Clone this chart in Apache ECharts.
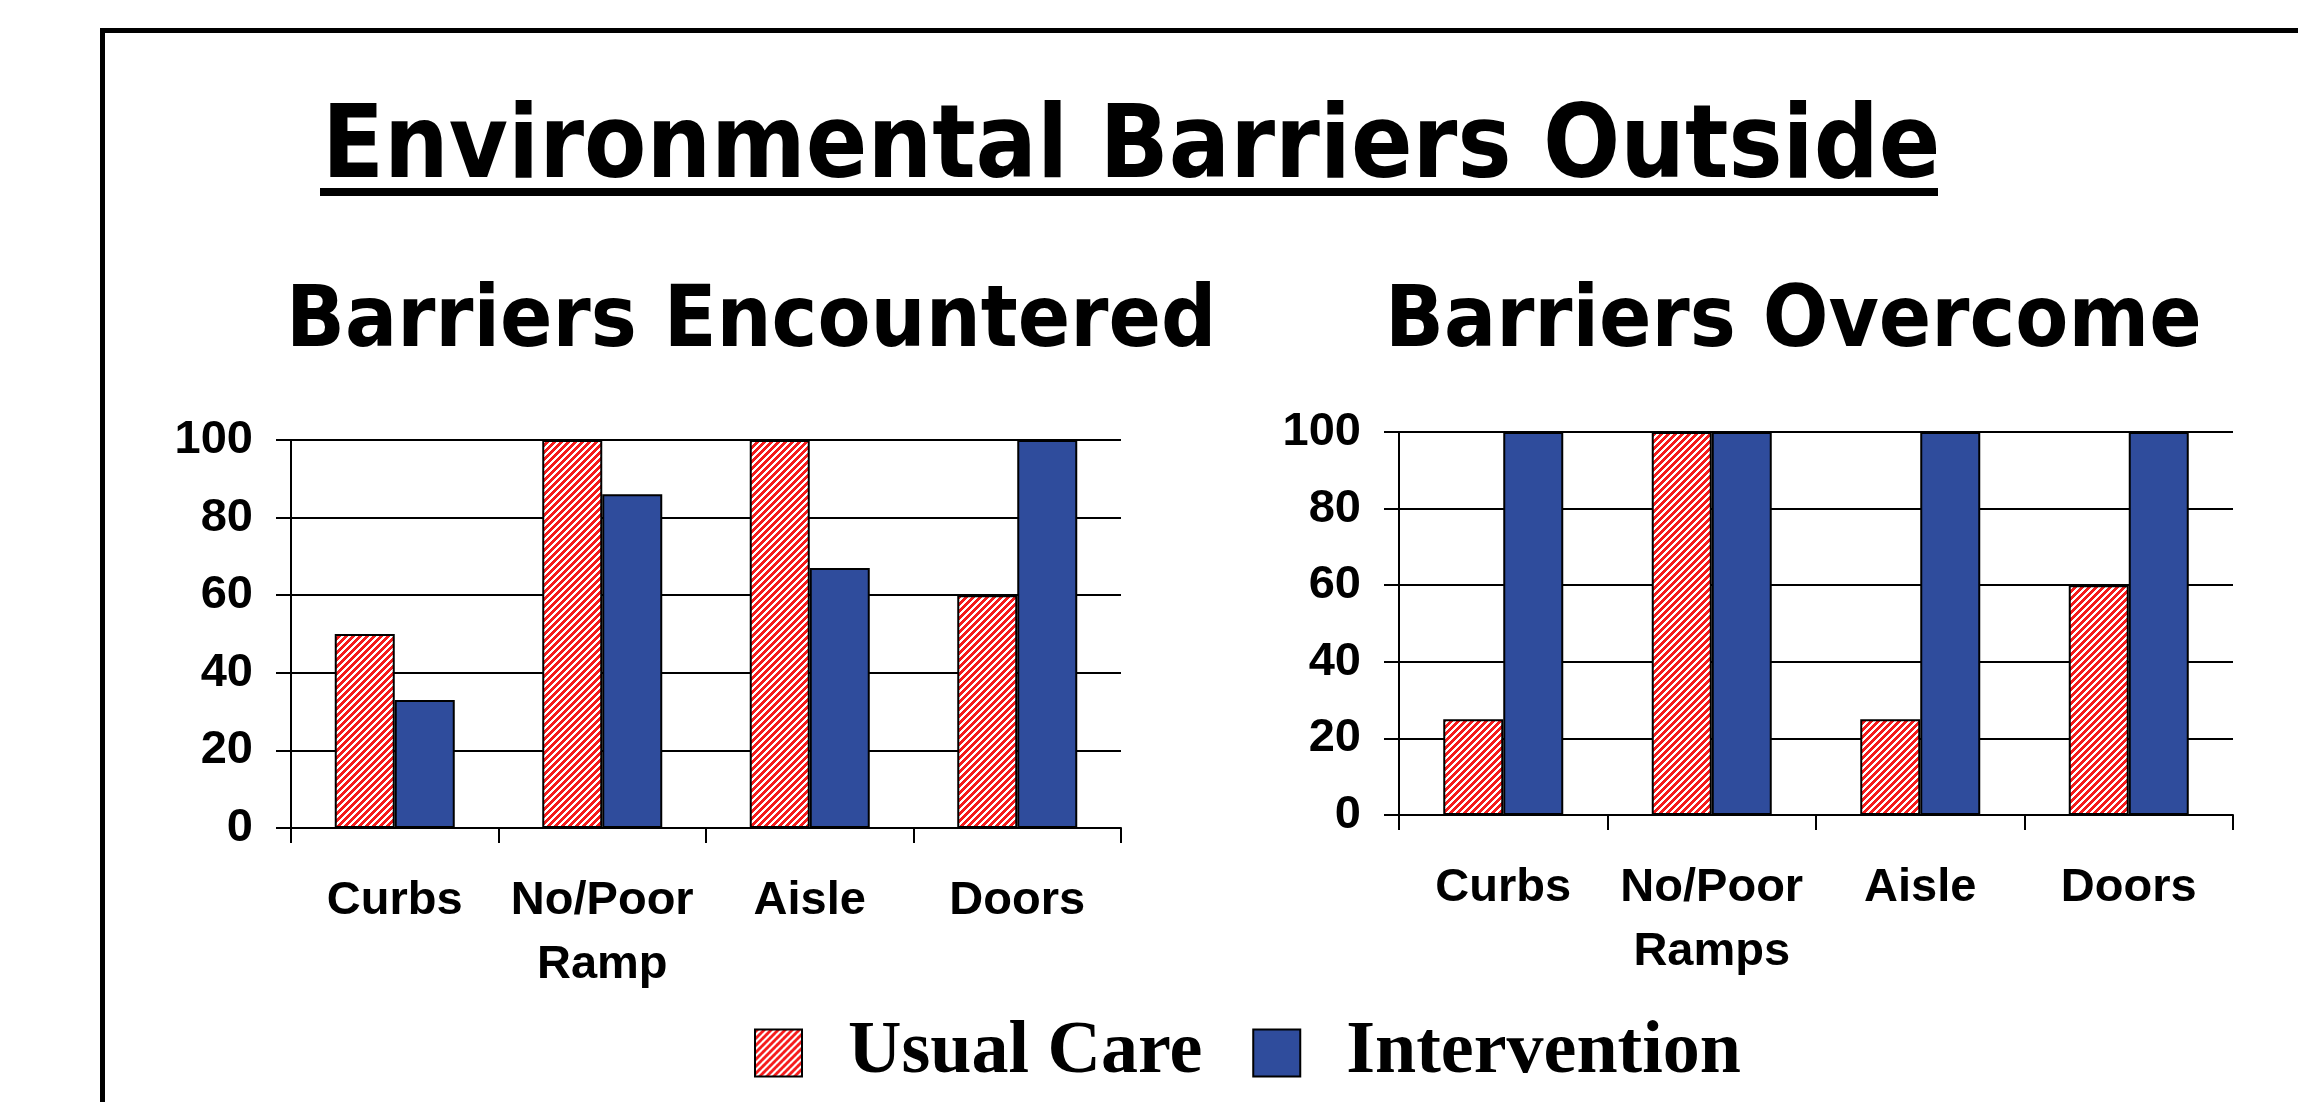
<!DOCTYPE html>
<html>
<head>
<meta charset="utf-8">
<script src="https://cdn.jsdelivr.net/npm/echarts@6/dist/echarts.min.js"></script>
<style>
html,body{margin:0;padding:0;background:#fff;}
#chart{width:2298px;height:1102px;}
</style>
</head>
<body>
<div id="chart"></div>
<script>
// ---- data ----
const mainTitle = 'Environmental Barriers Outside';
const leftTitle = 'Barriers Encountered';
const rightTitle = 'Barriers Overcome';
const seriesNames = ['Usual Care', 'Intervention'];
const leftCategories = ['Curbs', 'No/Poor\nRamp', 'Aisle', 'Doors'];
const rightCategories = ['Curbs', 'No/Poor\nRamps', 'Aisle', 'Doors'];
const encounteredUsual = [50, 100, 100, 60];
const encounteredIntervention = [33, 86, 67, 100];
const overcomeUsual = [25, 100, 25, 60];
const overcomeIntervention = [100, 100, 100, 100];
const yTicks = [0, 20, 40, 60, 80, 100];

// ---- styling ----
function makeStripe(red, light) {
  const n = 7;
  const c = document.createElement('canvas');
  c.width = n; c.height = n;
  const ctx = c.getContext('2d');
  const img = ctx.createImageData(n, n);
  for (let y = 0; y < n; y++) {
    for (let x = 0; x < n; x++) {
      const i = (y * n + x) * 4;
      const isRed = ((x + y) % n) < 4;
      const col = isRed ? red : light;
      img.data[i] = col[0]; img.data[i + 1] = col[1]; img.data[i + 2] = col[2]; img.data[i + 3] = 255;
    }
  }
  ctx.putImageData(img, 0, 0);
  return c;
}
const stripe = makeStripe([245, 28, 28], [255, 255, 255]);
const blue = '#2F4C9C';
const sansBold = '"DejaVu Sans Condensed", "DejaVu Sans", sans-serif';
const tickFont = '"Liberation Sans", Arial, sans-serif';

const chart = echarts.init(document.getElementById('chart'), null, {renderer: 'canvas'});

function xAxisCfg(gridIndex, cats) {
  return {
    type: 'category', gridIndex: gridIndex, data: cats,
    axisLine: {show: true, lineStyle: {color: '#000', width: 2}},
    axisTick: {show: true, length: 15, lineStyle: {color: '#000', width: 2}},
    axisLabel: {color: '#000', fontFamily: tickFont, fontWeight: 'bold', fontSize: 47, lineHeight: 64, margin: 41, interval: 0}
  };
}
function yAxisCfg(gridIndex) {
  return {
    type: 'value', gridIndex: gridIndex, min: yTicks[0], max: yTicks[yTicks.length - 1], interval: 20,
    axisLine: {show: true, lineStyle: {color: '#000', width: 2}},
    axisTick: {show: true, length: 15, lineStyle: {color: '#000', width: 2}},
    splitLine: {show: true, lineStyle: {color: '#000', width: 2}},
    axisLabel: {color: '#000', fontFamily: tickFont, fontWeight: 'bold', fontSize: 47, margin: 38}
  };
}
function barSeries(name, xi, data, color) {
  return {
    name: name, type: 'bar', xAxisIndex: xi, yAxisIndex: xi, data: data,
    barWidth: 60, barGap: '0%',
    itemStyle: {color: color, borderColor: '#000', borderWidth: 2},
    emphasis: {disabled: true}
  };
}

const option = {
  animation: false,
  backgroundColor: '#fff',
  grid: [
    {left: 291, top: 440, width: 830, height: 388},
    {left: 1399, top: 432, width: 834, height: 383}
  ],
  xAxis: [xAxisCfg(0, leftCategories), xAxisCfg(1, rightCategories)],
  yAxis: [yAxisCfg(0), yAxisCfg(1)],
  legend: {
    data: seriesNames,
    left: 749, top: 1011,
    itemWidth: 47, itemHeight: 47, itemGap: 50,
    icon: 'rect',
    textStyle: {color: '#000', fontFamily: '"Liberation Serif", "Times New Roman", serif', fontWeight: 'bold', fontSize: 74, padding: [0, 0, 0, 41]},
    selectedMode: false
  },
  series: [
    barSeries(seriesNames[0], 0, encounteredUsual, {image: stripe, repeat: 'repeat'}),
    barSeries(seriesNames[1], 0, encounteredIntervention, blue),
    barSeries(seriesNames[0], 1, overcomeUsual, {image: stripe, repeat: 'repeat'}),
    barSeries(seriesNames[1], 1, overcomeIntervention, blue)
  ],
  graphic: [
    {type: 'rect', silent: true, shape: {x: 102.5, y: 30.5, width: 2400, height: 1200},
     style: {fill: 'none', stroke: '#000', lineWidth: 5}},
    {type: 'text', silent: true, x: 322, y: 151,
     style: {text: mainTitle, fill: '#000', font: 'bold 101px ' + sansBold, textAlign: 'left', textVerticalAlign: 'middle'}},
    {type: 'rect', silent: true, shape: {x: 320, y: 188, width: 1618, height: 8}, style: {fill: '#000'}},
    {type: 'text', silent: true, x: 286, y: 324,
     style: {text: leftTitle, fill: '#000', font: 'bold 86px ' + sansBold, textAlign: 'left', textVerticalAlign: 'middle'}},
    {type: 'text', silent: true, x: 1385, y: 324,
     style: {text: rightTitle, fill: '#000', font: 'bold 86px ' + sansBold, textAlign: 'left', textVerticalAlign: 'middle'}}
  ]
};
chart.setOption(option);
</script>
</body>
</html>
